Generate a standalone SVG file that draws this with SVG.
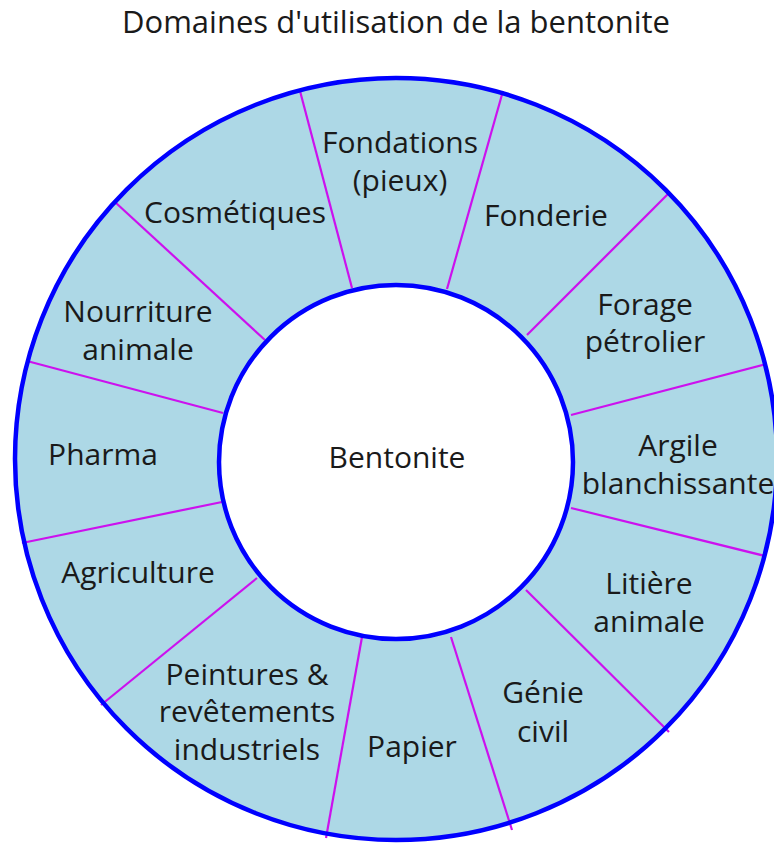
<svg xmlns="http://www.w3.org/2000/svg" width="774" height="845" viewBox="0 0 774 845">
<style>
text{font-family:"Open Sans","Liberation Sans",sans-serif;font-size:30px;fill:#1a1a1a;text-anchor:middle}
.div{stroke:#cc11ee;stroke-width:2.2;fill:none}
</style>
<rect width="774" height="845" fill="#ffffff"/>
<text id="title" x="396" y="33" style="font-size:31px">Domaines d'utilisation de la bentonite</text>
<circle id="ring" cx="396" cy="459" r="381" fill="#ADD8E6"/>
<g id="dividers" class="div">
<line x1="300" y1="91" x2="352" y2="288"/>
<line x1="503" y1="91" x2="447" y2="289"/>
<line x1="669" y1="193" x2="527" y2="335"/>
<line x1="766" y1="364" x2="571" y2="415"/>
<line x1="765" y1="556" x2="571" y2="508"/>
<line x1="669" y1="732" x2="526" y2="590"/>
<line x1="512" y1="830" x2="451" y2="637"/>
<line x1="326" y1="838" x2="362" y2="637"/>
<line x1="101" y1="705" x2="257" y2="578"/>
<line x1="22" y1="543" x2="222" y2="502"/>
<line x1="27" y1="361" x2="223" y2="413"/>
<line x1="116" y1="203" x2="265" y2="340"/>
</g>
<circle cx="396" cy="459" r="381" fill="none" stroke="#0000ff" stroke-width="4.5"/>
<g id="bentonite">
<circle cx="396" cy="462" r="177" fill="#ffffff" stroke="#0000ff" stroke-width="4.5"/>
<text x="397" y="468">Bentonite</text>
</g>
<g id="fondations"><text x="400" y="153">Fondations</text><text x="400" y="191">(pieux)</text></g>
<g id="fonderie"><text x="546" y="226">Fonderie</text></g>
<g id="forage"><text x="645" y="315">Forage</text><text x="645" y="352">pétrolier</text></g>
<g id="argile"><text x="678" y="456">Argile</text><text x="678" y="494">blanchissante</text></g>
<g id="litiere"><text x="649" y="594">Litière</text><text x="649" y="632">animale</text></g>
<g id="genie"><text x="543" y="703">Génie</text><text x="543" y="742">civil</text></g>
<g id="papier"><text x="412" y="757">Papier</text></g>
<g id="peintures"><text x="247" y="685">Peintures &amp;</text><text x="247" y="722">revêtements</text><text x="247" y="760">industriels</text></g>
<g id="agriculture"><text x="138" y="583">Agriculture</text></g>
<g id="pharma"><text x="103" y="465">Pharma</text></g>
<g id="nourriture"><text x="138" y="322">Nourriture</text><text x="138" y="360">animale</text></g>
<g id="cosmetiques"><text x="235" y="223">Cosmétiques</text></g>
</svg>
